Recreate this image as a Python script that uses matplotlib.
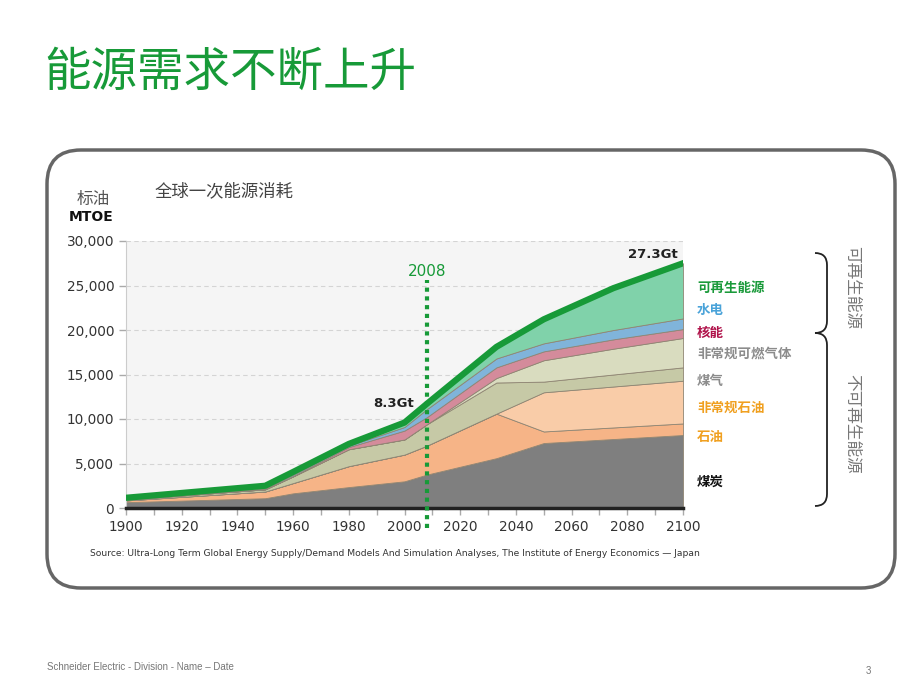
import numpy as np
import matplotlib
matplotlib.use("Agg")
import matplotlib.pyplot as plt
from matplotlib.patches import FancyBboxPatch, PathPatch
from matplotlib.path import Path
from matplotlib.ticker import FuncFormatter, MultipleLocator

plt.rcParams['font.family'] = ['Noto Sans CJK SC', 'DejaVu Sans']

# ---- data (MTOE) ----
years = [1900, 1950, 1960, 1980, 2000, 2008, 2033, 2050, 2075, 2100]
coal = [650, 1100, 1650, 2350, 3000, 3750, 5600, 7300, 7750, 8200]
oil = [200, 750, 1150, 2350, 3000, 3250, 5000, 1300, 1300, 1300]
unconv_oil = [0, 0, 0, 0, 0, 0, 0, 4400, 4600, 4800]
gas = [100, 250, 750, 1900, 1700, 2400, 3500, 1200, 1350, 1500]
unconv_gas = [0, 0, 0, 0, 0, 0, 500, 2400, 2900, 3300]
nuclear = [0, 0, 50, 250, 1000, 800, 1200, 1000, 1050, 1000]
hydro = [50, 100, 150, 150, 400, 900, 1000, 900, 1050, 1200]
renewable = [150, 300, 300, 200, 500, 600, 1300, 2700, 4700, 6200]

layer_names = ['煤炭', '石油', '非常规石油', '煤气', '非常规可燃气体', '核能', '水电', '可再生能源']
layer_colors = ['#7f7f7f', '#f6b487', '#f9cca8', '#c6c9a6', '#d9dcbf', '#d48b9b', '#80b4da', '#80d2aa']
label_colors = ['#111111', '#f0a020', '#f0a020', '#8c8c8c', '#8c8c8c', '#b0124a', '#4aa3d9', '#1a9a3a']

ytick_vals = [0, 5000, 10000, 15000, 20000, 25000, 30000]
xtick_vals = list(range(1900, 2101, 20))

green = '#179a38'

fig = plt.figure(figsize=(9.2, 6.9), dpi=100)

# background layer in pixel coordinates
bg = fig.add_axes([0, 0, 1, 1], zorder=0)
bg.set_xlim(0, 920)
bg.set_ylim(690, 0)
bg.axis('off')

box = FancyBboxPatch((47, 150), 848, 438, boxstyle="round,pad=0,rounding_size=34",
                     facecolor='white', edgecolor='#666666', linewidth=2.5)
bg.add_patch(box)

bg.text(44, 73, '能源需求不断上升', fontsize=33.5, color=green, va='center', ha='left')
bg.text(93, 199, '标油', fontsize=12, color='#555555', ha='center', va='center')
bg.text(91, 217, 'MTOE', fontsize=10, color='#111111', ha='center', va='center',
        fontweight='bold', family='DejaVu Sans')
bg.text(155, 191, '全球一次能源消耗', fontsize=12.5, color='#444444', ha='left', va='center')

# legend labels
label_y = [482, 437, 408, 381, 354, 333, 310, 288]
for name, col, yy in zip(layer_names, label_colors, label_y):
    bg.text(697, yy, name, fontsize=9.7, color=col, ha='left', va='center', fontweight='bold')


# braces
def brace(y0, y1, x_end=815, x_mid=827):
    verts = [(x_end, y0), (x_mid, y0), (x_mid, y0 + 12),
             (x_mid, y1 - 12), (x_mid, y1), (x_end, y1)]
    codes = [Path.MOVETO, Path.CURVE3, Path.CURVE3,
             Path.LINETO, Path.CURVE3, Path.CURVE3]
    p = Path(verts, codes)
    bg.add_patch(PathPatch(p, facecolor='none', edgecolor='#222222', linewidth=1.3))


brace(253, 333)
brace(333, 506)
bg.text(852, 288, '可再生能源', fontsize=12, color='#777777', rotation=-90,
        ha='center', va='center')
bg.text(852, 424, '不可再生能源', fontsize=12, color='#777777', rotation=-90,
        ha='center', va='center')

bg.text(90, 553, 'Source: Ultra-Long Term Global Energy Supply/Demand Models And Simulation Analyses, '
        'The Institute of Energy Economics \u2014 Japan', fontsize=6.6, color='#333333',
        ha='left', va='center', family=['Liberation Sans Narrow', 'DejaVu Sans'])

bg.text(47, 667, 'Schneider Electric - Division - Name \u2013 Date', fontsize=7, color='#777777',
        ha='left', va='center', family=['Liberation Sans', 'DejaVu Sans'])
bg.text(868, 671, '3', fontsize=7, color='#777777', ha='center', va='center',
        family=['Liberation Sans', 'DejaVu Sans'])

# ---- main chart ----
ax = fig.add_axes([126 / 920, 1 - 508 / 690, 557 / 920, 267 / 690], zorder=1)
ax.set_facecolor('#f5f5f5')

layers = np.vstack([coal, oil, unconv_oil, gas, unconv_gas, nuclear, hydro, renewable])
ax.stackplot(years, layers, colors=layer_colors, edgecolor='#8f8573', linewidth=0.6)
total = layers.sum(axis=0)
ax.plot(years, total, color=green, linewidth=4.5, solid_joinstyle='round', zorder=5)

ax.set_xlim(1900, 2100)
ax.set_ylim(0, 30000)
ax.set_yticks(ytick_vals)
ax.yaxis.set_major_formatter(FuncFormatter(lambda v, p: '{:,}'.format(int(v))))
ax.set_xticks(xtick_vals)
ax.xaxis.set_minor_locator(MultipleLocator(10))
ax.tick_params(axis='both', labelsize=9.8, labelcolor='#333333', color='#aaaaaa',
               direction='out', length=5, width=1)
ax.tick_params(axis='x', which='minor', color='#aaaaaa', length=5, width=1)
for lab in ax.get_xticklabels() + ax.get_yticklabels():
    lab.set_family('DejaVu Sans')

ax.grid(axis='y', color='#d4d4d4', linestyle=(0, (4, 3)), linewidth=0.8)
ax.set_axisbelow(True)
for s in ['top', 'right']:
    ax.spines[s].set_visible(False)
ax.spines['left'].set_color('#cccccc')
ax.spines['bottom'].set_color('#222222')
ax.spines['bottom'].set_linewidth(2.5)
ax.spines['bottom'].set_zorder(6)

# 2008 marker
ax.plot([2008, 2008], [-2300, 25600], color=green, linestyle=(0, (1, 1.1)), linewidth=3,
        clip_on=False, zorder=7)
ax.text(2008, 25700, '2008', color=green, fontsize=11, ha='center', va='bottom',
        family='DejaVu Sans')
ax.text(2003.5, 11700, '8.3Gt', fontsize=9.5, fontweight='bold', color='#222222',
        ha='right', va='center', family='DejaVu Sans')
ax.text(2098, 28500, '27.3Gt', fontsize=9.5, fontweight='bold', color='#222222',
        ha='right', va='center', family='DejaVu Sans')

fig.savefig('out.png', dpi=100)
